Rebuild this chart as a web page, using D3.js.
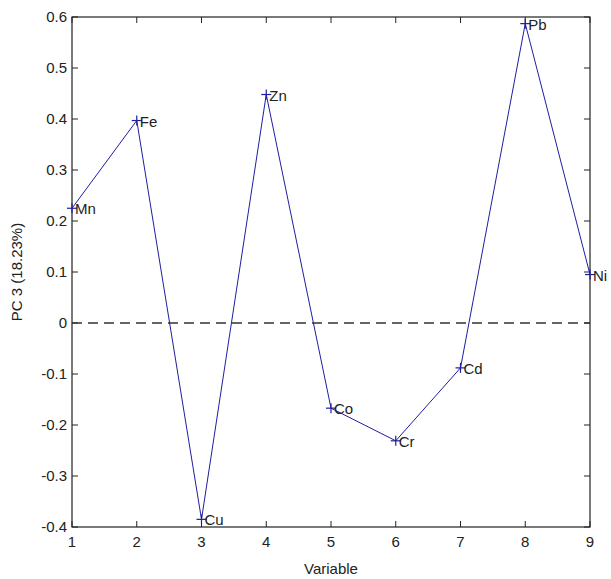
<!DOCTYPE html>
<html lang="en">
<head>
    <meta charset="UTF-8">
    <title>PC 3 loadings</title>
    <script src="https://d3js.org/d3.v7.min.js"></script>
    <style>
        body { margin: 0; background: #fff; }
        svg { display: block; }
        text { font-family: "Liberation Sans Narrow", "Liberation Sans", Arial, sans-serif; fill: #222; }
    </style>
</head>
<body>
    <div id="chart"></div>
    <script>
        // data
        const variables = ["Mn", "Fe", "Cu", "Zn", "Co", "Cr", "Cd", "Pb", "Ni"];
        const positions = [1, 2, 3, 4, 5, 6, 7, 8, 9];
        const pc3 = [0.225, 0.397, -0.385, 0.448, -0.167, -0.231, -0.088, 0.587, 0.095];
        const xTicks = [1, 2, 3, 4, 5, 6, 7, 8, 9];
        const yTicks = [-0.4, -0.3, -0.2, -0.1, 0, 0.1, 0.2, 0.3, 0.4, 0.5, 0.6];

        const width = 611, height = 579;
        const margin = { top: 17, right: 21, bottom: 52, left: 72 };

        const svg = d3.select("#chart").append("svg")
            .attr("width", width).attr("height", height);

        const x = d3.scaleLinear().domain([1, 9]).range([margin.left, width - margin.right]);
        const y = d3.scaleLinear().domain([-0.4, 0.6]).range([height - margin.bottom, margin.top]);

        const tick = 6;
        const axisColor = "#222";

        // box
        svg.append("rect")
            .attr("x", x(1)).attr("y", y(0.6))
            .attr("width", x(9) - x(1)).attr("height", y(-0.4) - y(0.6))
            .attr("fill", "none").attr("stroke", axisColor).attr("stroke-width", 1.2);

        // ticks inward on all sides
        const g = svg.append("g").attr("stroke", axisColor).attr("stroke-width", 1);
        xTicks.forEach(v => {
            g.append("line").attr("x1", x(v)).attr("x2", x(v)).attr("y1", y(-0.4)).attr("y2", y(-0.4) - tick);
            g.append("line").attr("x1", x(v)).attr("x2", x(v)).attr("y1", y(0.6)).attr("y2", y(0.6) + tick);
        });
        yTicks.forEach(v => {
            g.append("line").attr("x1", x(1)).attr("x2", x(1) + tick).attr("y1", y(v)).attr("y2", y(v));
            g.append("line").attr("x1", x(9)).attr("x2", x(9) - tick).attr("y1", y(v)).attr("y2", y(v));
        });

        // tick labels (plain hyphen for negatives, like the original)
        const fmt = d => d === 0 ? "0" : d3.format(".1f")(d).replace("\u2212", "-");
        svg.selectAll(".xl").data(xTicks).enter().append("text")
            .attr("x", d => x(d)).attr("y", y(-0.4) + 20)
            .attr("text-anchor", "middle").style("font-size", "15px")
            .text(d => d);
        svg.selectAll(".yl").data(yTicks).enter().append("text")
            .attr("x", x(1) - 5).attr("y", d => y(d) + 5)
            .attr("text-anchor", "end").style("font-size", "15px")
            .text(fmt);

        // axis titles
        svg.append("text")
            .attr("x", (x(1) + x(9)) / 2).attr("y", height - 5)
            .attr("text-anchor", "middle").style("font-size", "15px")
            .text("Variable");
        svg.append("text")
            .attr("transform", `translate(22,${(y(0.6) + y(-0.4)) / 2}) rotate(-90)`)
            .attr("text-anchor", "middle").style("font-size", "15px")
            .text("PC 3 (18.23%)");

        // zero reference line
        svg.append("line")
            .attr("x1", x(1)).attr("x2", x(9)).attr("y1", y(0)).attr("y2", y(0))
            .attr("stroke", "#333").attr("stroke-width", 1.4).attr("stroke-dasharray", "10,6");

        const pts = positions.map((p, i) => ({ p, v: pc3[i], name: variables[i] }));
        const lineColor = "#1e1ea0";

        svg.append("path").datum(pts)
            .attr("fill", "none").attr("stroke", lineColor).attr("stroke-width", 1)
            .attr("d", d3.line().x(d => x(d.p)).y(d => y(d.v)));

        // '+' markers
        const m = 5;
        const mk = svg.append("g").attr("stroke", lineColor).attr("stroke-width", 1.2);
        pts.forEach(d => {
            mk.append("line").attr("x1", x(d.p) - m).attr("x2", x(d.p) + m).attr("y1", y(d.v)).attr("y2", y(d.v));
            mk.append("line").attr("x1", x(d.p)).attr("x2", x(d.p)).attr("y1", y(d.v) - m).attr("y2", y(d.v) + m);
        });

        // point labels
        svg.selectAll(".pl").data(pts).enter().append("text")
            .attr("x", d => x(d.p) + 3).attr("y", d => y(d.v) + 6)
            .style("font-size", "15px")
            .text(d => d.name);
    </script>
</body>
</html>
